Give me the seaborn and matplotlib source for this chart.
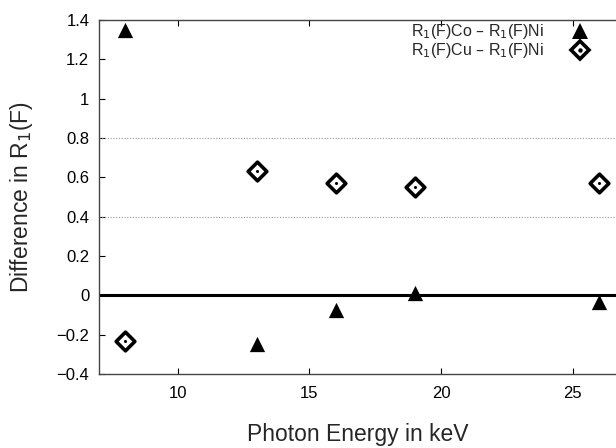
import numpy as np
import pandas as pd
import matplotlib
matplotlib.use("Agg")
import matplotlib.pyplot as plt
import seaborn as sns
from matplotlib.lines import Line2D
from matplotlib.legend_handler import HandlerTuple

# data
energy = [8, 13, 16, 19, 26]
co_minus_ni = [1.35, -0.245, -0.075, 0.01, -0.035]
cu_minus_ni = [-0.23, 0.63, 0.57, 0.55, 0.57]
y_ticks = [-0.4, -0.2, 0, 0.2, 0.4, 0.6, 0.8, 1, 1.2, 1.4]
y_ticklabels = ["\u22120.4", "\u22120.2", "0", "0.2", "0.4", "0.6", "0.8", "1", "1.2", "1.4"]
x_ticks = [10, 15, 20, 25]

sns.set_style("ticks")
plt.rcParams["font.family"] = ["Liberation Sans", "DejaVu Sans"]

df = pd.DataFrame({"energy": energy, "co": co_minus_ni, "cu": cu_minus_ni})

fig = plt.figure(figsize=(6.16, 4.48), dpi=100)
ax = fig.add_axes([0.1607, 0.1652, 0.8393, 0.7902])

# reference lines
ax.axhline(0, color="black", lw=2.2, zorder=1)
for yv in (0.4, 0.8):
    ax.axhline(yv, color="#999999", lw=0.8, ls=(0, (1, 1.5)), zorder=1)

sns.scatterplot(data=df, x="energy", y="co", marker="^", s=11**2,
                color="black", edgecolor="black", linewidth=0, ax=ax, zorder=3)
sns.scatterplot(data=df, x="energy", y="cu", marker="D", s=9.5**2,
                color="white", edgecolor="black", linewidth=2.6, ax=ax, zorder=3)
sns.scatterplot(data=df, x="energy", y="cu", marker="o", s=2.2**2,
                color="black", edgecolor="black", linewidth=0, ax=ax, zorder=4)

ax.set_xlim(7, 26.65)
ax.set_ylim(-0.4, 1.4)
ax.set_xticks(x_ticks)
ax.set_yticks(y_ticks)
ax.set_yticklabels(y_ticklabels)
ax.tick_params(direction="in", length=4, width=0.8, labelsize=12, colors="black",
               top=True, pad=7)
ax.tick_params(axis="x", pad=9)
ax.spines["right"].set_visible(False)
for sp in ("left", "bottom", "top"):
    ax.spines[sp].set_linewidth(1.0)
    ax.spines[sp].set_color("#444444")

ax.set_xlabel("Photon Energy in keV", fontsize=16.5, va="center")
ax.set_ylabel("Difference in R$_1$(F)", fontsize=16.5, va="center")
ax.xaxis.set_label_coords(0.5, -0.172)
ax.yaxis.set_label_coords(-0.15, 0.5)

h_co = Line2D([], [], marker="^", color="black", ls="none", markersize=11, markeredgewidth=0)
h_cu_d = Line2D([], [], marker="D", markerfacecolor="white", markeredgecolor="black",
                ls="none", markersize=9.5, markeredgewidth=2.6)
h_cu_dot = Line2D([], [], marker="o", color="black", ls="none", markersize=2.2)
ax.legend([h_co, (h_cu_d, h_cu_dot)],
          ["R$_1$(F)Co \u2013 R$_1$(F)Ni", "R$_1$(F)Cu \u2013 R$_1$(F)Ni"],
          handler_map={tuple: HandlerTuple(ndivide=1, pad=0)},
          loc="upper right", bbox_to_anchor=(0.9545, 0.994), frameon=False,
          markerfirst=False, fontsize=11.5, handlelength=1.5, handletextpad=1.55,
          labelspacing=0.0, borderpad=0, borderaxespad=0)

fig.savefig("out.png", dpi=100)
